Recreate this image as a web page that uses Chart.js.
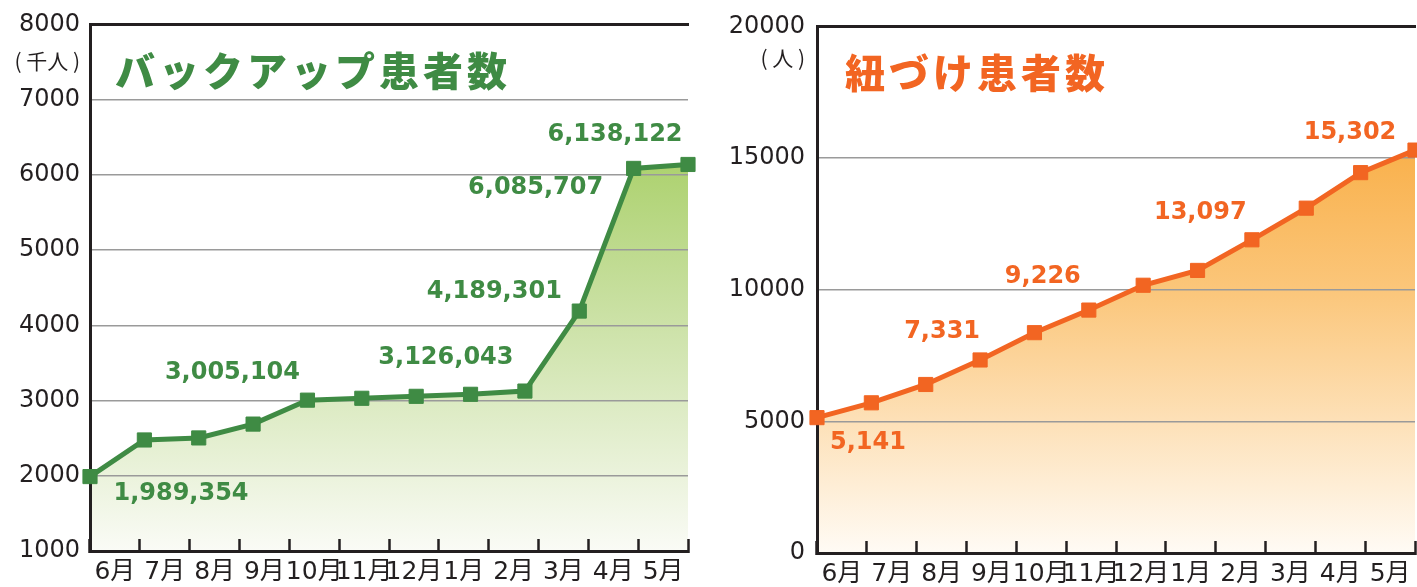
<!DOCTYPE html>
<html>
<head>
<meta charset="utf-8">
<script src="https://cdn.jsdelivr.net/npm/chart.js@4/dist/chart.umd.min.js"></script>
<style>
html, body { margin: 0; padding: 0; background: #fff; }
#wrap { position: relative; width: 1417px; height: 587px; }
.box { position: absolute; top: 0; height: 587px; }
</style>
</head>
<body>
<div id="wrap">
	<div class="box" style="left:0;width:700px"><canvas id="backup"></canvas></div>
	<div class="box" style="left:700px;width:717px"><canvas id="linked"></canvas></div>
</div>
<script>
// months on the x axis
const months = ["6月", "7月", "8月", "9月", "10月", "11月", "12月", "1月", "2月", "3月", "4月", "5月"];

// バックアップ患者数 (千人)
const backupValues = [1989.354, 2476, 2503, 2687, 3005.104, 3030, 3056, 3083, 3126.043, 4189.301, 6085.707, 6138.122];
const backupLabels = ["1,989,354", "", "", "", "3,005,104", "", "", "", "3,126,043", "4,189,301", "6,085,707", "6,138,122"];
const backupTicks = { min: 1000, max: 8000, step: 1000 };

// 紐づけ患者数 (人)
const linkedValues = [5141, 5704, 6400, 7331, 8368, 9226, 10169, 10732, 11895, 13097, 14446, 15302];
const linkedLabels = ["5,141", "", "", "7,331", "", "9,226", "", "", "", "13,097", "", "15,302"];
const linkedTicks = { min: 0, max: 20000, step: 5000 };

const INK = "#231f20";

// where each value label sits relative to its point
const backupLabelOffsets = { 0: [91, 17], 4: [-75, -27], 8: [-79, -33], 9: [-85, -19], 10: [-98, 19], 11: [-73, -30] };
const linkedLabelOffsets = { 0: [51, 25], 3: [-38, -28], 5: [-46, -33], 9: [-106, 5], 11: [-65, -17] };

const annotate = {
	id: "annotate",
	afterDatasetsDraw(chart, args, opts) {
		const ctx = chart.ctx;
		const area = chart.chartArea;
		const pts = chart.getDatasetMeta(0).data;
		ctx.save();

		// chart title inside the plot
		ctx.fillStyle = opts.color;
		ctx.font = '900 40px "Noto Sans CJK JP"';
		ctx.letterSpacing = "4px";
		ctx.textAlign = "left";
		ctx.textBaseline = "middle";
		ctx.fillText(opts.title, area.left + opts.titleDx, area.top + 46);

		// unit under the top tick
		ctx.letterSpacing = "0px";
		ctx.fillStyle = INK;
		ctx.font = '21px "Noto Sans CJK JP"';
		ctx.textAlign = "right";
		ctx.fillText(opts.unit, area.left - opts.unitPad, area.top + opts.unitDy);

		// value labels
		ctx.fillStyle = opts.color;
		ctx.font = 'bold 24px "DejaVu Sans"';
		ctx.textAlign = "center";
		opts.labels.forEach((txt, i) => {
			if (!txt) return;
			const [dx, dy] = opts.offsets[i];
			ctx.fillText(txt, pts[i].x + dx, pts[i].y + dy);
		});
		ctx.restore();
	}
};

function makeChart(canvasId, cfg) {
	return new Chart(document.getElementById(canvasId), {
		type: "line",
		data: {
			labels: months,
			datasets: [{
				data: cfg.values,
				xAxisID: "xp",
				borderColor: cfg.color,
				borderWidth: 5,
				tension: 0,
				pointStyle: "rect",
				pointRadius: 10,
				pointBackgroundColor: cfg.color,
				pointBorderColor: cfg.color,
				pointBorderWidth: 1,
				clip: false,
				fill: "start",
				backgroundColor: (c) => {
					const a = c.chart.chartArea;
					if (!a) return "transparent";
					const g = c.chart.ctx.createLinearGradient(0, a.top, 0, a.bottom);
					cfg.fillStops.forEach(([p, col]) => g.addColorStop(p, col));
					return g;
				}
			}]
		},
		options: {
			responsive: true,
			maintainAspectRatio: false,
			animation: false,
			layout: { autoPadding: false, padding: { top: 20, right: cfg.padRight, left: 0, bottom: 0 } },
			plugins: {
				legend: { display: false },
				tooltip: { enabled: false },
				filler: { drawTime: "beforeDraw" },
				annotate: {
					color: cfg.color,
					title: cfg.title,
					titleDx: cfg.titleDx,
					unit: cfg.unit,
					unitPad: cfg.tickPad,
					unitDy: cfg.unitDy,
					labels: cfg.labels,
					offsets: cfg.offsets
				}
			},
			scales: {
				x: {
					type: "category",
					position: "bottom",
					offset: true,
					grid: { display: true, offset: true, drawOnChartArea: false, drawTicks: true, tickLength: -12, tickColor: INK, tickWidth: 2.5 },
					border: { display: true, color: INK, width: 3 },
					ticks: { color: INK, font: { family: '"DejaVu Sans", "Noto Sans CJK JP"', size: 25 }, padding: 18, maxRotation: 0, autoSkip: false },
					afterFit: (s) => { s.height = cfg.axisHeight; s.paddingLeft = 0; s.paddingRight = 0; }
				},
				xp: {
					type: "category",
					position: "top",
					offset: false,
					grid: { display: true, drawOnChartArea: false, drawTicks: false },
					ticks: { display: false },
					border: { display: true, color: INK, width: 3 },
					afterFit: (s) => { s.height = 0; s.paddingLeft = 0; s.paddingRight = 0; }
				},
				y: {
					min: cfg.ticks.min,
					max: cfg.ticks.max,
					ticks: { stepSize: cfg.ticks.step, color: INK, font: { family: '"DejaVu Sans"', size: 24 }, padding: cfg.tickPad, callback: (v) => String(v) },
					grid: { color: "#9a9a9a", lineWidth: 1.5, drawTicks: false },
					border: { display: true, color: INK, width: 3 },
					afterFit: (s) => { s.width = cfg.axisWidth; }
				}
			}
		},
		plugins: [annotate]
	});
}

makeChart("backup", {
	values: backupValues,
	labels: backupLabels,
	offsets: backupLabelOffsets,
	ticks: backupTicks,
	color: "#3f8b44",
	title: "バックアップ患者数",
	titleDx: 25,
	unit: "( 千人 )",
	unitDy: 37,
	tickPad: 10,
	axisWidth: 90,
	axisHeight: 36,
	padRight: 12,
	fillStops: [[0, "rgb(146,196,62)"], [0.5, "rgb(197,222,155)"], [1, "rgb(250,251,246)"]]
});

makeChart("linked", {
	values: linkedValues,
	labels: linkedLabels,
	offsets: linkedLabelOffsets,
	ticks: linkedTicks,
	color: "#f26522",
	title: "紐づけ患者数",
	titleDx: 28,
	unit: "( 人 )",
	unitDy: 32,
	tickPad: 12,
	axisWidth: 117,
	axisHeight: 34,
	padRight: 2,
	fillStops: [[0, "rgb(247,158,35)"], [0.5, "rgb(251,198,122)"], [1, "rgb(255,251,245)"]]
});
</script>
</body>
</html>
